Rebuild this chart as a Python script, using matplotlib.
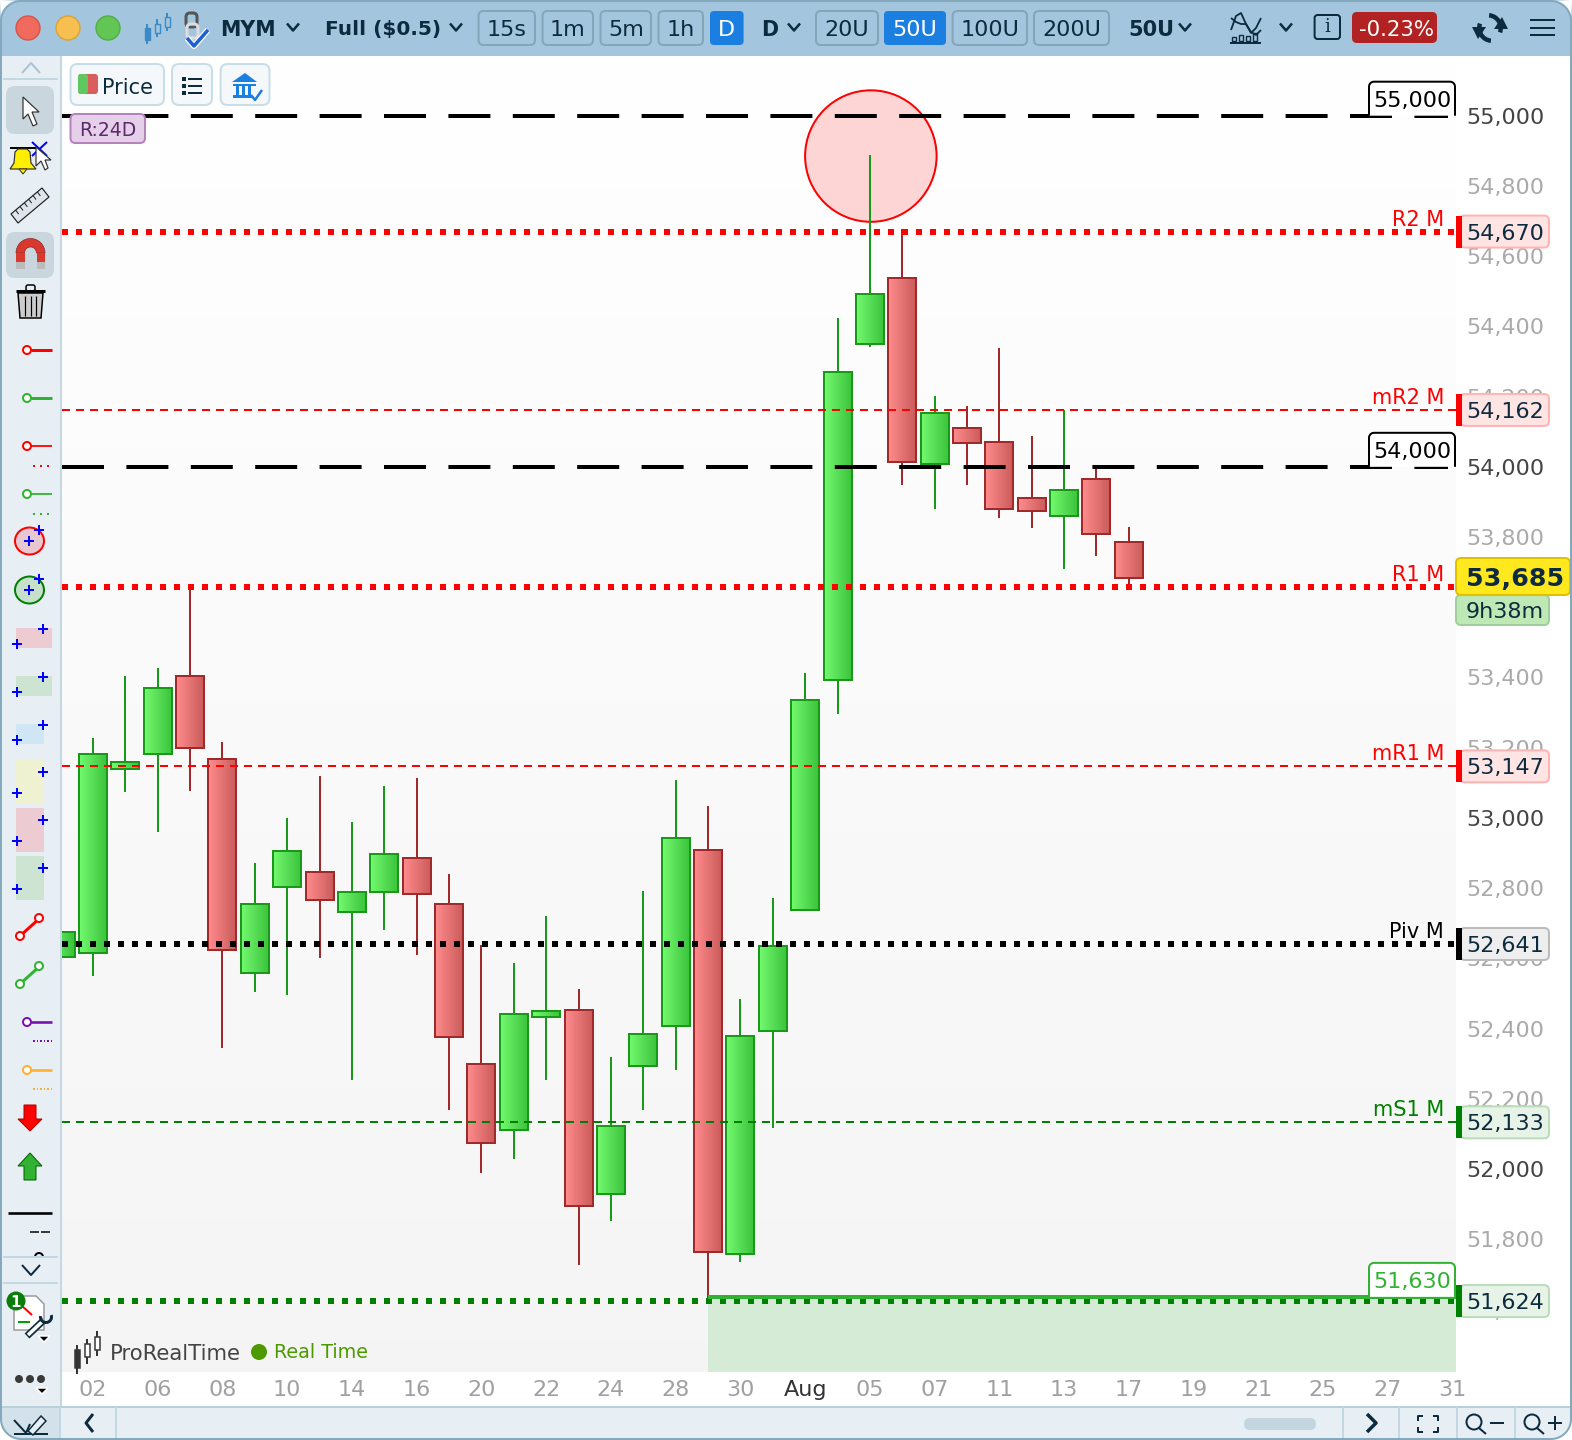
import numpy as np
import matplotlib
matplotlib.use('Agg')
import matplotlib.pyplot as plt
from matplotlib.patches import Rectangle, Ellipse, FancyBboxPatch, Circle, Polygon, Wedge

plt.rcParams['font.family'] = ['DejaVu Sans']
plt.rcParams['lines.scale_dashes'] = False

# candles, first one is cut by the left edge of the chart
highs = [52674, 53227, 53403, 53426, 53657, 53215, 52873, 52999, 53118, 52987, 53090, 53113, 52839, 52637, 52586,
         52722, 52512, 52318, 52791, 53107, 53033, 52483, 52771, 53412, 54423, 54887, 54676, 54203, 54172, 54337,
         54087, 54161, 53996, 53830]
lows = [52603, 52549, 53073, 52959, 53078, 52344, 52503, 52497, 52600, 52255, 52680, 52611, 52167, 51990, 52030,
        52253, 51726, 51851, 52167, 52281, 51630, 51734, 52116, 52737, 53295, 54340, 53947, 53879, 53947, 53853,
        53827, 53708, 53745, 53657]
opens = [52603, 52614, 53138, 53181, 53403, 53169, 52557, 52802, 52845, 52731, 52788, 52885, 52756, 52298, 52110,
         52432, 52452, 51928, 52293, 52407, 52908, 51758, 52392, 52737, 53392, 54349, 54537, 54007, 54110, 54070,
         53910, 53859, 53964, 53785]
closes = [52674, 53181, 53158, 53369, 53198, 52623, 52756, 52907, 52765, 52788, 52896, 52782, 52375, 52073, 52441,
          52449, 51894, 52122, 52384, 52942, 51764, 52378, 52634, 53335, 54269, 54491, 54013, 54152, 54067, 53879,
          53873, 53933, 53808, 53682]
date_labels = ['02', '06', '08', '10', '14', '16', '20', '22', '24', '28', '30', 'Aug', '05', '07', '11', '13', '17',
               '19', '21', '25', '27', '31']
price_ticks = list(range(51600, 55001, 200))

level_names = ['R2 M', 'mR2 M', 'R1 M', 'mR1 M', 'Piv M', 'mS1 M']
level_values = [54670, 54162, 53657, 53147, 52641, 52133]
level_colors = ['#ff0000', '#ff0000', '#ff0000', '#ff0000', '#000000', '#008000']
round_levels = [55000, 54000]
support_level = 51630
support_start = 19
low_level = 51624
last_price = '53,685'
countdown = '9h38m'

W, H = 1572, 1440
AX_L, AX_R, AX_T, AX_B = 62, 1456, 56, 1372
BAR0, BAR_STEP = 93, 32.37
P_TOP, P_BOT = 55170, 51422

GREEN_EDGE, RED_EDGE = '#189a18', '#a02a2a'
DARK = '#0d2b3e'
BAR_BG = '#a3c5dd'
PANEL = '#e8eff4'
LINE_BLUE = '#c3d8e3'
FS = 16


def px(pixels):
    return pixels * 0.72


def py(price):
    return AX_T + (P_TOP - price) / (P_TOP - P_BOT) * (AX_B - AX_T)


fig = plt.figure(figsize=(W / 100, H / 100), dpi=100, facecolor='white')
ax = fig.add_axes([AX_L / W, 1 - AX_B / H, (AX_R - AX_L) / W, (AX_B - AX_T) / H])
xmin, xmax = (AX_L - BAR0) / BAR_STEP, (AX_R - BAR0) / BAR_STEP

# chart background
bg = np.linspace(1.0, 0.96, 256).reshape(-1, 1, 1).repeat(3, axis=2)
ax.imshow(bg, extent=[xmin, xmax, P_BOT, P_TOP], aspect='auto', zorder=0)

# support zone
zone_x = [support_start, xmax]
ax.fill_between(zone_x, P_BOT, support_level, color='#d6ebd6', lw=0, zorder=1)
ax.plot(zone_x, [support_level + 6, support_level + 6], color='#32b232', lw=px(4), solid_capstyle='butt', zorder=6)

# red circle around the top
ax.add_patch(Ellipse((24.03, 54885), 131.5 / BAR_STEP, 131.5 * 2.848, fc='#fdd5d5', ec='#ff0000', lw=px(2), zorder=2))

# candles
half = 0.4325
for i in range(len(highs)):
    x = i - 1
    up = closes[i] > opens[i]
    edge = GREEN_EDGE if up else RED_EDGE
    c0, c1 = ((0.45, 0.98, 0.44), (0.23, 0.76, 0.23)) if up else ((1.0, 0.55, 0.55), (0.79, 0.35, 0.35))
    top, bottom = max(opens[i], closes[i]), min(opens[i], closes[i])
    ax.plot([x, x], [lows[i], highs[i]], color=edge, lw=px(2), solid_capstyle='butt', zorder=3)
    grad = np.linspace(c0, c1, 32).reshape(1, 32, 3)
    ax.imshow(grad, extent=[x - half, x + half, bottom, top], aspect='auto', zorder=4, interpolation='bilinear')
    ax.add_patch(Rectangle((x - half, bottom), 2 * half, top - bottom, fc='none', ec=edge, lw=px(2), zorder=4.5))

# levels
for v in round_levels:
    ax.plot([xmin, (1448 - BAR0) / BAR_STEP], [v, v], color='black', lw=px(4),
            linestyle=(0, (px(42), px(22.4))), dash_capstyle='butt', zorder=7)
for name, v, c in zip(level_names, level_values, level_colors):
    if name.startswith('m'):
        ax.plot([xmin, xmax], [v, v], color=c, lw=px(2), linestyle=(0, (px(8), px(6))), dash_capstyle='butt', zorder=7)
    else:
        ax.plot([xmin, xmax], [v, v], color=c, lw=px(6), linestyle=(0, (px(6), px(8))), dash_capstyle='butt', zorder=7)
ax.plot([xmin, xmax], [low_level, low_level], color='#008000', lw=px(6), linestyle=(0, (px(6), px(8))),
        dash_capstyle='butt', zorder=5.5)

ax.set_xlim(xmin, xmax)
ax.set_ylim(P_BOT, P_TOP)
for s in ax.spines.values():
    s.set_visible(False)
ax.yaxis.tick_right()
ax.set_yticks(price_ticks)
ax.set_yticklabels([f'{v:,}' for v in price_ticks], fontsize=FS)
for t, v in zip(ax.get_yticklabels(), price_ticks):
    t.set_color('#444444' if v % 1000 == 0 else '#aaaaaa')
ax.set_xticks(np.arange(len(date_labels)) * 2)
ax.set_xticklabels(date_labels, fontsize=FS)
for t, s in zip(ax.get_xticklabels(), date_labels):
    t.set_color('#333333' if s == 'Aug' else '#a0a0a0')
ax.tick_params(axis='y', length=0, pad=px(10))
ax.tick_params(axis='x', length=0, pad=px(8))

# everything else is drawn in pixel coordinates on top of the chart
ui = fig.add_axes([0, 0, 1, 1], zorder=5)
ui.set_xlim(0, W)
ui.set_ylim(H, 0)
ui.axis('off')


def rbox(x0, y0, x1, y1, fc, ec='none', lw=2, r=5, z=3):
    ui.add_patch(FancyBboxPatch((x0 + r, y0 + r), x1 - x0 - 2 * r, y1 - y0 - 2 * r,
                                boxstyle=f'round,pad={r},rounding_size={r}', fc=fc, ec=ec, lw=px(lw), zorder=z))


def rect(x0, y0, x1, y1, fc, z=2):
    ui.add_patch(Rectangle((x0, y0), x1 - x0, y1 - y0, fc=fc, ec='none', zorder=z))


def label(x, y, s, size=FS, color=DARK, ha='center', weight='normal', z=5):
    ui.text(x, y, s, fontsize=size, color=color, ha=ha, va='center_baseline', fontweight=weight, zorder=z)


def line(xs, ys, color=DARK, lw=2, z=4, **kw):
    ui.plot(xs, ys, color=color, lw=px(lw), zorder=z, solid_capstyle=kw.pop('cap', 'butt'), **kw)


def caret(x, y, a=6, b=3.5, color=DARK, lw=2.5):
    line([x - a, x, x + a], [y - b, y + b, y - b], color=color, lw=lw)


def poly(points, fc, ec='none', lw=1, z=4):
    ui.add_patch(Polygon(points, closed=True, fc=fc, ec=ec, lw=px(lw), zorder=z))


def open_tag(x0, x1, y, s, color):
    # box with a rounded top that stands on its level line, no lower edge
    top, r = y - 34, 5
    t = np.linspace(0, np.pi / 2, 8)
    left = np.column_stack([x0 + r - r * np.cos(t), top + r - r * np.sin(t)])
    right = np.column_stack([x1 - r + r * np.sin(t), top + r - r * np.cos(t)])
    pts = np.vstack([[[x0, y]], left, right, [[x1, y]]])
    poly(pts, 'white', z=2.5)
    line(pts[:, 0], pts[:, 1], color=color, lw=2, z=2.6)
    label((x0 + x1) / 2, top + 17, s, color=color)


# tags on the price scale
tag_fill = {'#ff0000': ('#ffe4e4', '#ffb3b3'), '#000000': ('#eeeeee', '#bbbbbb'), '#008000': ('#e8f3e8', '#b9ddb9')}
for name, v, c in zip(level_names, level_values, level_colors):
    y = py(v)
    label(1444, y - 14, name, color=c, ha='right', size=15)
    if name == 'R1 M':
        continue
    fc, ec = tag_fill[c]
    rbox(1460, y - 16, 1549, y + 16, fc, ec)
    rect(1456, y - 16, 1462, y + 16, c, z=4)
    label(1466, y, f'{v:,}', ha='left')
y = py(low_level)
rbox(1460, y - 16, 1549, y + 16, *tag_fill['#008000'])
rect(1456, y - 16, 1462, y + 16, '#008000', z=4)
label(1466, y, f'{low_level:,}', ha='left')
rbox(1456, 595, 1549, 625, '#bfe9b4', '#9fcf9a')
label(1466, 610, countdown, ha='left')
rbox(1456, 558, 1570, 595, '#ffe81e', '#e0c000', z=3.5)
label(1466, 577, last_price, ha='left', size=18.3, weight='bold')

for v in round_levels:
    open_tag(1369, 1455, py(v), f'{v:,}', 'black')
open_tag(1369, 1455, py(support_level + 6), f'{support_level:,}', '#32b232')

# watermark
for x, y0, y1, b0, b1, c in [(77, 1345, 1374, 1350, 1368, True), (87, 1339, 1364, 1344, 1357, False),
                             (97, 1331, 1356, 1337, 1350, False)]:
    line([x, x], [y0, y1], color='#333333')
    ui.add_patch(Rectangle((x - 2.5, b0), 5, b1 - b0, fc='#333333' if c else 'white', ec='#333333', lw=px(1.5), zorder=4))
label(110, 1352, 'ProRealTime', size=15.3, color='#444444', ha='left')
ui.add_patch(Circle((259, 1352), 8, fc='#4d9900', ec='none', zorder=4))
label(274.5, 1351, 'Real Time', size=13.8, color='#4d9900', ha='left')

# chart buttons
rbox(70.5, 64, 164, 105, '#f5f8fb', '#c9dde8', r=7)
rbox(78, 74, 98, 94, '#d95f5f', r=3, z=4)
rbox(78, 74, 88, 94, '#5fc85f', r=3, z=4)
label(102, 86, 'Price', size=15, ha='left')
rbox(172, 64, 212, 105, '#f5f8fb', '#c9dde8', r=7)
for y in (79, 86, 93):
    rect(182, y - 2, 186, y + 2, DARK, z=4)
    rect(188, y - 1, 202, y + 1, DARK, z=4)
rbox(220.6, 64, 269.5, 105, '#f5f8fb', '#c9dde8', r=7)
poly([(232, 82), (245, 73), (257, 82)], '#1a7fe0')
rect(233, 84, 256, 86, '#1a7fe0', z=4)
for x in (236, 242, 248):
    rect(x, 86, x + 3, 96, '#1a7fe0', z=4)
rect(233, 95, 252, 98, '#1a7fe0', z=4)
line([251, 255, 262], [95, 100, 90], color='#1a7fe0', lw=2.5)
rbox(70.5, 114, 145, 143, '#e6cfe9', '#b583bb')
label(107.5, 129, 'R:24D', size=13.5, color='#5a2a6a')

# title bar
rect(0, 0, W, 56, BAR_BG)
for x, fc, ec in [(28, '#f06b5e', '#d9534a'), (68, '#f6bf4f', '#dda23a'), (108, '#62c554', '#4fae44')]:
    ui.add_patch(Circle((x, 28), 12, fc=fc, ec=ec, lw=1, zorder=4))
for x, y0, y1, b0, b1 in [(147, 24, 44, 28, 40), (157, 19, 37, 24, 33), (167, 13, 31, 17, 27)]:
    line([x, x], [y0, y1], color='#3a8ac7')
    ui.add_patch(Rectangle((x - 2.5, b0), 5, b1 - b0, fc='#3a8ac7' if x == 147 else BAR_BG, ec='#3a8ac7', lw=1, zorder=4))
rbox(186, 13, 197, 27, 'none', '#555555', lw=3, r=4)
rbox(187, 24, 198, 38, 'none', '#dddddd', lw=3, r=4)
line([187, 194, 208], [38, 46, 30], color='white', lw=6)
line([187, 194, 208], [38, 46, 30], color='#1f5fd0', lw=3.5, z=5)
label(247.5, 28, 'MYM', size=14.8, weight='bold')
caret(293, 27)
label(383, 28, 'Full ($0.5)', size=14.5, weight='bold')
caret(456, 27)
for x0, x1, s, active in [(478.6, 535, '15s', False), (542.6, 593, '1m', False), (600.5, 651, '5m', False),
                          (658.5, 703, '1h', False), (710, 743.6, 'D', True), (816, 878, '20U', False),
                          (884, 946, '50U', True), (952.6, 1027, '100U', False), (1034, 1109, '200U', False)]:
    if active:
        rbox(x0, 11, x1, 45, '#1a7fe0', r=4)
    else:
        rbox(x0, 11, x1, 45, 'none', '#85a5b8', r=5)
    label((x0 + x1) / 2, 28, s, color='white' if active else DARK)
label(770, 28, 'D', size=14.8, weight='bold')
caret(794, 27)
label(1151, 28, '50U', size=15, weight='bold')
caret(1185, 27)
xs = [1231, 1236, 1241, 1246, 1251, 1256, 1261]
line(xs, [30, 16, 13, 24, 33, 28, 18], lw=1.8)
line(xs, [18, 22, 24, 24, 32, 35, 30], lw=1.8)
line([1230, 1261], [43, 43], lw=2)
for x, h in [(1232, 4), (1239, 6), (1246, 5), (1253, 8)]:
    ui.add_patch(Rectangle((x, 41 - h), 4, h, fc='none', ec=DARK, lw=1, zorder=4))
caret(1286, 27)
rbox(1314.6, 15, 1340, 39, 'none', DARK, r=3)
ui.text(1327.3, 27, 'i', fontsize=13, color=DARK, ha='center', va='center', family='DejaVu Serif', zorder=5)
rbox(1352, 12, 1437, 43, '#b22222', r=5)
label(1396.5, 28, '-0.23%', size=15.3, color='white')
# refresh icon, two bent arrows
ui.add_patch(Wedge((1492, 28), 15, 95, 200, width=4.5, fc=DARK, ec='none', zorder=4))
ui.add_patch(Wedge((1488, 28), 15, 275, 20, width=4.5, fc=DARK, ec='none', zorder=4))
poly([(1472, 27), (1486, 27), (1478, 39)], DARK)
poly([(1494, 29), (1508, 29), (1502, 17)], DARK)
for y in (20, 28, 35):
    line([1530, 1555], [y, y], lw=2)

# left tool bar
rect(2, 56, 60, 1406, PANEL)
rect(60, 56, 62, 1406, LINE_BLUE)
caret(31, 68, a=9, b=-5, color='#a8c3d3', lw=2)
line([3, 58], [79, 79], color=LINE_BLUE, lw=2)
rbox(6, 86, 54, 134, '#c9d6dd', r=9)
poly([(23, 97), (23, 119), (28, 114), (33, 126), (37, 124), (32, 112), (39, 112)], 'white', '#333333', 1.2)
# bell
line([10, 36], [148, 148], color='black')
poly([(15, 152), (18, 149), (27, 149), (30, 152), (31, 163), (36, 169), (10, 169), (14, 163)], '#ffee00', '#333333', 1.2)
poly([(19, 169), (27, 169), (23, 174)], '#ffee00', '#333333', 1)
line([32, 47], [142, 156], color='#0000ff', lw=2)
line([47, 32], [142, 156], color='#0000ff', lw=2)
poly([(36, 147), (36, 166), (41, 161), (45, 170), (48, 168), (45, 160), (51, 160)], 'white', '#333333', 1.2)
# ruler
poly([(11, 214), (42, 188), (49, 197), (18, 223)], '#dfe5ec', '#222222', 1.2)
for t in np.linspace(0.15, 0.85, 6):
    x, y = 11 + 31 * t, 214 - 26 * t
    line([x, x + 3], [y, y + 4], color='#222222', lw=1)
# magnet
rbox(6, 232, 54, 278, '#c9d6dd', r=9)
ui.add_patch(Wedge((30.5, 253), 14.5, 180, 360, width=8.5, fc='#d8382e', ec='#8a2a2a', lw=0.5, zorder=4))
rect(16, 253, 24.5, 262, '#d8382e', z=4)
rect(36.5, 253, 45, 262, '#d8382e', z=4)
rect(16, 262, 24.5, 269, '#bbbbbb', z=4)
rect(36.5, 262, 45, 269, '#bbbbbb', z=4)
# trash can
poly([(18, 293), (43, 293), (41, 318), (20, 318)], '#cccccc', 'black', 1.5)
line([16, 45], [291, 291], color='black', lw=3)
rbox(26, 285, 35, 291, 'none', 'black', lw=1.5, r=2)
for x in (25, 30.5, 36):
    line([x, x], [296, 316], color='black', lw=1.2)


def hline_tool(y, color, lw, dots=None, step=7):
    ui.add_patch(Circle((27, y), 4, fc='white', ec=color, lw=px(2), zorder=5))
    line([31, 52], [y, y], color=color, lw=lw)
    if dots:
        for x in np.arange(33, 52, step):
            rect(x, y + dots, x + 1.6, y + dots + 1.6, color, z=4)


hline_tool(350, '#ff0000', 3)
hline_tool(398, '#32b232', 3)
hline_tool(446, '#ff0000', 1.8, dots=19)
hline_tool(494, '#32b232', 1.8, dots=19)
hline_tool(1022, '#7a10b0', 2.6, dots=18, step=3.5)
hline_tool(1070, '#ffb030', 2.6, dots=18, step=3.5)


def plus(x, y):
    line([x - 5, x + 5], [y, y], color='#0000ff')
    line([x, x], [y - 5, y + 5], color='#0000ff')


for y, fc, ec in [(541, '#e8c8d0', '#ff0000'), (590, '#c6e0cc', '#008000')]:
    ui.add_patch(Ellipse((29.5, y), 29, 27, fc=fc, ec=ec, lw=px(2), zorder=4))
    plus(29, y)
    plus(39, y - 11)
for y0, y1, x1, fc in [(628, 648, 52, '#eccbd2'), (676, 696, 52, '#cde4d2'), (724, 744, 44, '#cfe6f5'),
                       (760, 804, 44, '#eef2d0'), (808, 852, 44, '#eccbd2'), (856, 900, 44, '#cde4d2')]:
    rect(16, y0, x1, y1, fc, z=3)
    plus(17, y1 - 4 if y1 - y0 < 30 else y1 - 11)
    plus(43, y0 + 1 if y1 - y0 < 30 else y0 + 12)
for y, c in [(927, '#ff0000'), (975, '#32b232')]:
    line([20, 40], [y + 9, y - 9], color=c, lw=3)
    ui.add_patch(Circle((20, y + 9), 4, fc='white', ec=c, lw=px(2), zorder=5))
    ui.add_patch(Circle((39, y - 9), 4, fc='white', ec=c, lw=px(2), zorder=5))
poly([(24, 1105), (36, 1105), (36, 1119), (42, 1119), (30, 1131), (18, 1119), (24, 1119)], '#ff0000', '#b00000', 1)
poly([(30, 1153), (42, 1166), (36, 1166), (36, 1180), (24, 1180), (24, 1166), (18, 1166)], '#32b232', '#006000', 1)
line([8, 52], [1213, 1213], color='black', lw=2.6)
line([30, 39], [1232, 1232], color='black', lw=1.5)
line([41, 50], [1232, 1232], color='black', lw=1.5)
ui.add_patch(Wedge((39, 1257), 5, 180, 360, width=2, fc='black', ec='none', zorder=4))
line([3, 58], [1257, 1257], color=LINE_BLUE, lw=2)
caret(31, 1270, a=9, b=5, lw=2)
line([3, 58], [1283, 1283], color=LINE_BLUE, lw=2)
# settings icon, sheet with a wrench
poly([(14, 1296), (36, 1296), (44, 1304), (44, 1330), (14, 1330)], 'white', '#999999', 1.5)
line([22, 32], [1306, 1315], color='#ff0000')
line([18, 30], [1322, 1322], color='#00a000')
line([27, 44], [1336, 1320], lw=7, z=4.2)
line([28, 44], [1335, 1320], color='white', lw=3.5, z=4.3)
ui.add_patch(Wedge((46, 1317), 7, 340, 190, width=3, fc=DARK, ec='none', zorder=4.4))
ui.add_patch(Circle((16, 1301), 9.5, fc='#0a7d0a', ec='none', zorder=5))
label(16, 1301, '1', size=11, color='white', weight='bold', z=6)
poly([(38, 1336), (50, 1336), (44, 1342)], 'black', 'white', 1.5)
for x in (19, 30, 41):
    ui.add_patch(Circle((x, 1379), 4, fc='#3a3a3a', ec='none', zorder=4))
poly([(36, 1388), (48, 1388), (42, 1394)], 'black', 'white', 1.5)

# bottom bar
rect(2, 1406, W - 1, 1439, PANEL)
line([2, W], [1406.5, 1406.5], color='#b9cfdb', lw=2)
rect(2, 1406, 60, 1439, '#d3e1ea', z=2.5)
for x in (60, 116, 1343, 1399, 1457, 1515):
    line([x, x], [1407, 1438], color=LINE_BLUE, lw=2)
line([14, 26, 30], [1420, 1433, 1424], lw=2)
line([14, 48], [1434, 1434], lw=2)
poly([(28, 1431), (41, 1416), (46, 1421), (33, 1435)], '#e8eff4', DARK, 1.5)
line([93, 86, 93], [1414, 1423, 1432], lw=3)
rbox(1244, 1418, 1316, 1430, '#c3d5df', r=6)
line([1367, 1376, 1367], [1414, 1423, 1432], lw=3.5)
for sx, sy in [(-1, -1), (1, -1), (-1, 1), (1, 1)]:
    cx, cy = 1428 + sx * 10, 1423.5 + sy * 8
    line([cx, cx, cx - sx * 5], [cy - sy * 5, cy, cy], lw=2)
for cx in (1474, 1532):
    ui.add_patch(Circle((cx, 1422), 7.5, fc='none', ec=DARK, lw=px(2), zorder=4))
    line([cx + 5, cx + 12], [1428, 1434], lw=2)
line([1490, 1504], [1423, 1423], lw=2)
line([1548, 1562], [1423, 1423], lw=2)
line([1555, 1555], [1416, 1430], lw=2)

# rounded window corners
R = 20
corners = [(1, 1, 1, 1), (W - 1, 1, -1, 1), (1, H - 1, 1, -1), (W - 1, H - 1, -1, -1)]
for cx, cy, sx, sy in corners:
    t = np.linspace(0, np.pi / 2, 20)
    arc = np.column_stack([cx + sx * (R - R * np.cos(t)), cy + sy * (R - R * np.sin(t))])
    poly(np.vstack([arc, [[cx - sx, cy - sy]]]), 'white', z=8)
    line(arc[:, 0], arc[:, 1], color='#84a9bd', lw=2, z=9)
line([1 + R, W - 1 - R], [1, 1], color='#84a9bd', lw=2, z=9)
line([1 + R, W - 1 - R], [H - 1, H - 1], color='#84a9bd', lw=2, z=9)
line([1, 1], [1 + R, H - 1 - R], color='#84a9bd', lw=2, z=9)
line([W - 1, W - 1], [1 + R, H - 1 - R], color='#84a9bd', lw=2, z=9)

fig.savefig('out.png', dpi=100)
